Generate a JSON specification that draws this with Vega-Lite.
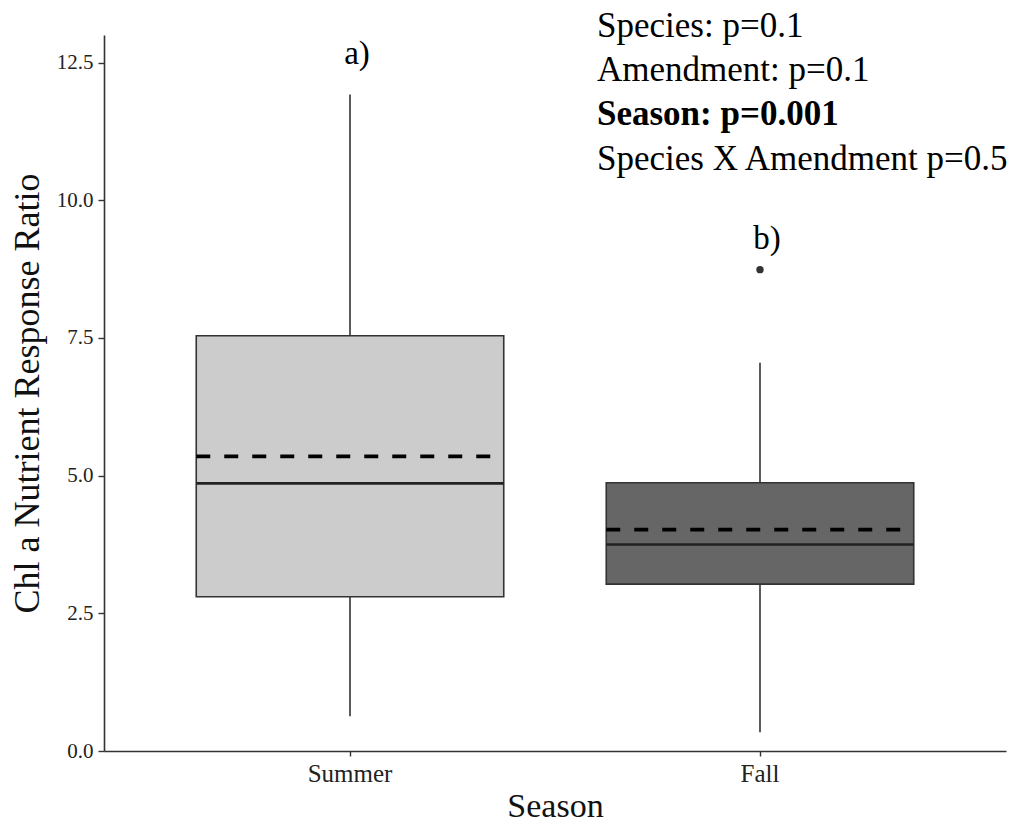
{
  "$schema": "https://vega.github.io/schema/vega-lite/v6.json",
  "width": 902,
  "height": 716,
  "autosize": {"type": "none"},
  "padding": {"left": 104, "top": 35, "right": 14, "bottom": 74},
  "background": "white",
  "config": {
    "font": "Liberation Serif",
    "view": {"stroke": null},
    "axis": {"grid": false, "domainColor": "#333333", "domainWidth": 1.6, "tickColor": "#333333", "tickWidth": 1.4, "labelColor": "#222222", "titleColor": "#111111", "titleFontWeight": "normal", "labelFont": "Liberation Serif", "titleFont": "Liberation Serif"}
  },
  "datasets": {
    "stats": [
      {"Season": "Summer", "min": 0.63, "q1": 2.8, "median": 4.86, "mean": 5.35, "q3": 7.54, "max": 11.92},
      {"Season": "Fall", "min": 0.34, "q1": 3.03, "median": 3.75, "mean": 4.02, "q3": 4.87, "max": 7.05}
    ],
    "outliers": [{"Season": "Fall", "value": 8.74}],
    "letters": [
      {"Season": "Summer", "label": "a)", "y": 12.65},
      {"Season": "Fall", "label": "b)", "y": 9.29}
    ],
    "notes": [
      {"Season": "Fall", "label": "Species:  p=0.1", "y": 12.97, "bold": false},
      {"Season": "Fall", "label": "Amendment: p=0.1", "y": 12.16, "bold": false},
      {"Season": "Fall", "label": "Season: p=0.001", "y": 11.37, "bold": true},
      {"Season": "Fall", "label": "Species X Amendment p=0.5", "y": 10.55, "bold": false}
    ]
  },
  "encoding": {
    "x": {
      "field": "Season",
      "type": "nominal",
      "sort": ["Summer", "Fall"],
      "scale": {"type": "band", "domain": ["Summer", "Fall"], "paddingInner": 0.25, "paddingOuter": 0.225},
      "axis": {"title": "Season", "labelAngle": 0, "labelFontSize": 25, "titleFontSize": 34, "tickSize": 5, "labelPadding": 5, "titlePadding": 3}
    }
  },
  "layer": [
    {
      "data": {"name": "stats"},
      "mark": {"type": "rule", "color": "#333333", "strokeWidth": 1.6},
      "encoding": {
        "y": {"field": "min", "type": "quantitative", "scale": {"domain": [0, 13], "nice": false}, "axis": {"title": "Chl a Nutrient Response Ratio", "values": [0, 2.5, 5, 7.5, 10, 12.5], "format": ".1f", "labelFontSize": 21, "titleFontSize": 36, "tickSize": 6, "labelPadding": 5, "titlePadding": 10}},
        "y2": {"field": "max"}
      }
    },
    {
      "data": {"name": "stats"},
      "mark": {"type": "bar", "stroke": "#333333", "strokeWidth": 1.6},
      "encoding": {
        "y": {"field": "q1", "type": "quantitative"},
        "y2": {"field": "q3"},
        "fill": {"field": "Season", "type": "nominal", "scale": {"domain": ["Summer", "Fall"], "range": ["#cccccc", "#666666"]}, "legend": null}
      }
    },
    {
      "data": {"name": "stats"},
      "mark": {"type": "rule", "color": "#222222", "strokeWidth": 2.6},
      "encoding": {
        "x": {"field": "Season", "type": "nominal", "bandPosition": 0},
        "x2": {"field": "Season", "bandPosition": 1},
        "y": {"field": "median", "type": "quantitative"}
      }
    },
    {
      "data": {"name": "stats"},
      "mark": {"type": "rule", "color": "#000000", "strokeWidth": 3.8, "strokeDash": [14, 14]},
      "encoding": {
        "x": {"field": "Season", "type": "nominal", "bandPosition": 0},
        "x2": {"field": "Season", "bandPosition": 1},
        "y": {"field": "mean", "type": "quantitative"}
      }
    },
    {
      "data": {"name": "outliers"},
      "mark": {"type": "circle", "color": "#333333", "opacity": 1, "size": 55},
      "encoding": {
        "y": {"field": "value", "type": "quantitative"}
      }
    },
    {
      "data": {"name": "letters"},
      "mark": {"type": "text", "fontSize": 33, "color": "#000000", "baseline": "middle", "align": "center", "dx": 7},
      "encoding": {
        "y": {"field": "y", "type": "quantitative"},
        "text": {"field": "label"}
      }
    },
    {
      "data": {"name": "notes"},
      "transform": [{"filter": "!datum.bold"}],
      "mark": {"type": "text", "fontSize": 35, "color": "#000000", "baseline": "alphabetic", "align": "left", "dx": -163, "clip": false},
      "encoding": {
        "y": {"field": "y", "type": "quantitative"},
        "text": {"field": "label"}
      }
    },
    {
      "data": {"name": "notes"},
      "transform": [{"filter": "datum.bold"}],
      "mark": {"type": "text", "fontSize": 35, "fontWeight": "bold", "color": "#000000", "baseline": "alphabetic", "align": "left", "dx": -163, "clip": false},
      "encoding": {
        "y": {"field": "y", "type": "quantitative"},
        "text": {"field": "label"}
      }
    }
  ]
}
